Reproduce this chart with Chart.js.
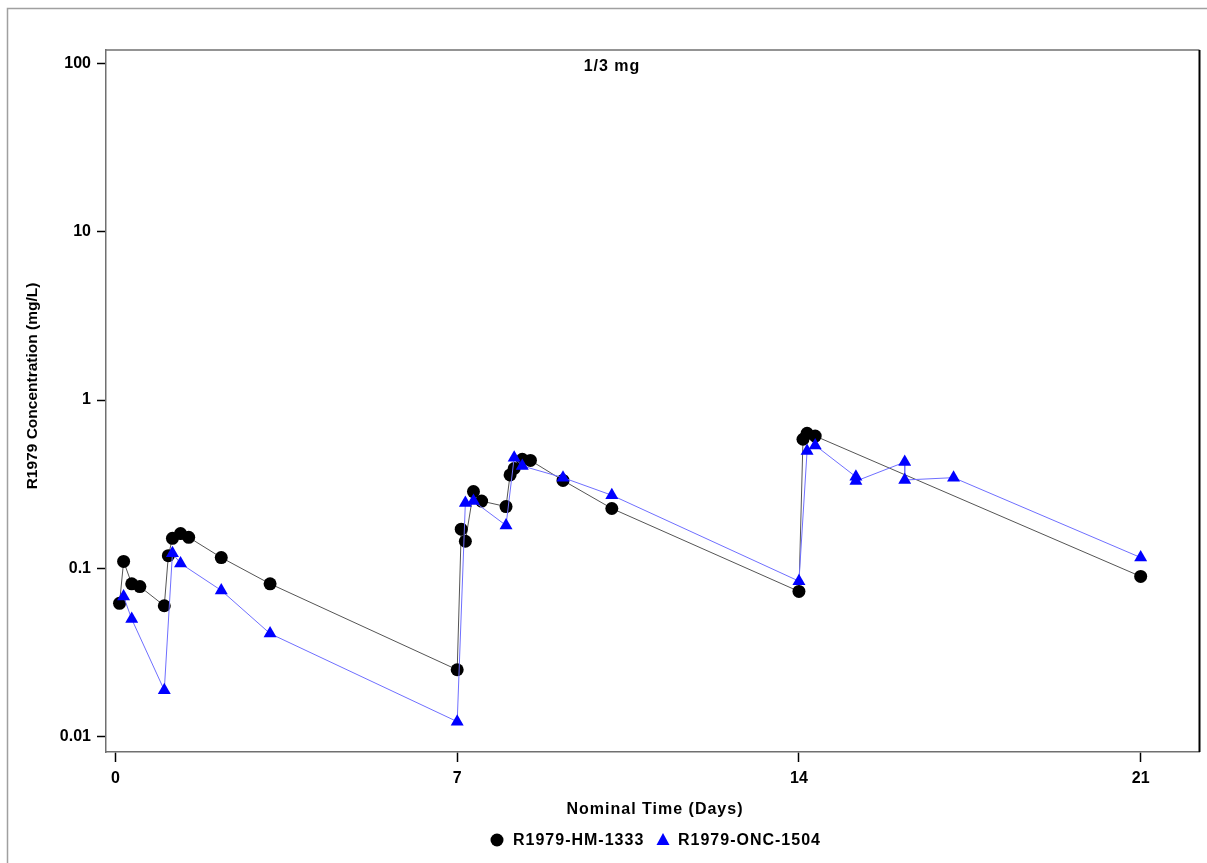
<!DOCTYPE html>
<html>
<head>
<meta charset="utf-8">
<script src="https://cdn.jsdelivr.net/npm/chart.js@4/dist/chart.umd.min.js"></script>
<style>
  body { margin: 0; background: #fff; }
  #wrap { width: 1207px; height: 863px; }
</style>
</head>
<body>
<div id="wrap"><canvas id="myChart" width="1207" height="863"></canvas></div>
<script>
// nominal times in days, concentrations in mg/L
const hmTime = [0.083, 0.167, 0.333, 0.5, 1, 1.083, 1.167, 1.333, 1.5, 2.167, 3.167,
  7, 7.083, 7.167, 7.333, 7.5, 8, 8.083, 8.167, 8.333, 8.5, 9.167, 10.167,
  14, 14.083, 14.167, 14.333, 21];
const hmConc = [0.062, 0.110, 0.081, 0.078, 0.060, 0.119, 0.151, 0.161, 0.153, 0.116, 0.081,
  0.025, 0.171, 0.145, 0.286, 0.251, 0.233, 0.359, 0.392, 0.445, 0.438, 0.333, 0.227,
  0.073, 0.585, 0.634, 0.611, 0.0896];

const oncTime = [0.167, 0.333, 1, 1.167, 1.333, 2.167, 3.167,
  7, 7.167, 7.333, 8, 8.167, 8.333, 9.167, 10.167,
  14, 14.167, 14.333, 15.167, 15.167, 16.167, 16.167, 17.167, 21];
const oncConc = [0.068, 0.050, 0.0189, 0.123, 0.107, 0.074, 0.041,
  0.0123, 0.245, 0.251, 0.180, 0.455, 0.406, 0.346, 0.272,
  0.084, 0.498, 0.538, 0.350, 0.330, 0.428, 0.335, 0.346, 0.116];

const xTicks = [0, 7, 14, 21];
const yTicks = [0.01, 0.1, 1, 10, 100];

const chartTitle = "1/3 mg";
const xTitle = "Nominal Time (Days)";
const yTitle = "R1979 Concentration (mg/L)";
const seriesNames = ["R1979-HM-1333", "R1979-ONC-1504"];

const FAMILY = "'Liberation Sans', Arial, sans-serif";

function toPoints(xs, ys) {
  return xs.map(function (x, i) {
    return { x: x, y: ys[i] };
  });
}

// frame, titles and the legend are drawn by hand
const decorations = {
  id: "decorations",
  beforeDraw(chart) {
    let ctx = chart.ctx;
    ctx.save();
    ctx.fillStyle = "#fff";
    ctx.fillRect(0, 0, chart.width, chart.height);
    ctx.strokeStyle = "#a0a0a0";
    ctx.lineWidth = 1.5;
    ctx.beginPath();
    ctx.moveTo(7.5, chart.height);
    ctx.lineTo(7.5, 8.5);
    ctx.lineTo(chart.width, 8.5);
    ctx.stroke();
    ctx.restore();
  },
  afterDraw(chart) {
    let ctx = chart.ctx;
    let a = chart.chartArea;
    ctx.save();
    ctx.strokeStyle = "#707070";
    ctx.lineWidth = 1.5;
    ctx.beginPath();
    ctx.moveTo(a.left, a.top);
    ctx.lineTo(a.right, a.top);
    ctx.stroke();
    ctx.strokeStyle = "#000";
    ctx.lineWidth = 2;
    ctx.beginPath();
    ctx.moveTo(a.right, a.top);
    ctx.lineTo(a.right, a.bottom);
    ctx.stroke();

    ctx.fillStyle = "#000";
    ctx.font = "bold 16px " + FAMILY;
    ctx.letterSpacing = "1px";
    ctx.textAlign = "center";
    ctx.textBaseline = "middle";
    ctx.fillText(chartTitle, 612, 67);
    ctx.fillText(xTitle, 655, 810);

    ctx.save();
    ctx.letterSpacing = "0px";
    ctx.font = "bold 15.5px " + FAMILY;
    ctx.translate(33, 386);
    ctx.rotate(-Math.PI / 2);
    ctx.fillText(yTitle, 0, 0);
    ctx.restore();

    // legend
    ctx.textAlign = "left";
    ctx.beginPath();
    ctx.arc(497, 840, 6.5, 0, Math.PI * 2);
    ctx.fill();
    ctx.fillText(seriesNames[0], 513, 841);
    ctx.fillStyle = "#0000ff";
    ctx.beginPath();
    ctx.moveTo(663, 833);
    ctx.lineTo(669.5, 845);
    ctx.lineTo(656.5, 845);
    ctx.closePath();
    ctx.fill();
    ctx.fillStyle = "#000";
    ctx.fillText(seriesNames[1], 678, 841);
    ctx.restore();
  },
};

const ctx = document.getElementById("myChart").getContext("2d");
const concChart = new Chart(ctx, {
  type: "line",
  data: {
    datasets: [
      {
        label: seriesNames[0],
        data: toPoints(hmTime, hmConc),
        borderColor: "#555555",
        borderWidth: 1,
        backgroundColor: "#000000",
        pointBackgroundColor: "#000000",
        pointBorderWidth: 0,
        pointStyle: "circle",
        pointRadius: 6.5,
        order: 1,
      },
      {
        label: seriesNames[1],
        data: toPoints(oncTime, oncConc),
        borderColor: "#6f6fff",
        borderWidth: 1,
        backgroundColor: "#0000ff",
        pointBackgroundColor: "#0000ff",
        pointBorderWidth: 0,
        pointStyle: "triangle",
        pointRadius: 7.5,
        order: 0,
      },
    ],
  },
  options: {
    responsive: false,
    animation: false,
    layout: { padding: { left: 0, top: 50, right: 2.5, bottom: 0 } },
    plugins: {
      legend: { display: false },
      tooltip: { enabled: false },
    },
    scales: {
      x: {
        type: "linear",
        min: -0.194,
        max: 22.205,
        afterBuildTicks: function (scale) {
          scale.ticks = xTicks.map(function (v) { return { value: v }; });
        },
        afterFit: function (scale) {
          scale.height = 111;
          scale.paddingLeft = 0;
          scale.paddingRight = 0;
        },
        grid: { drawOnChartArea: false, tickLength: 10, tickColor: "#000", tickWidth: 1.5 },
        border: { color: "#707070", width: 1.5 },
        ticks: {
          color: "#000",
          font: { family: FAMILY, size: 16, weight: "bold" },
          padding: 7,
          maxRotation: 0,
          callback: function (v) { return String(v); },
        },
      },
      y: {
        type: "logarithmic",
        min: 0.00812,
        max: 120,
        afterBuildTicks: function (scale) {
          scale.ticks = yTicks.map(function (v) { return { value: v }; });
        },
        afterFit: function (scale) { scale.width = 106; },
        grid: { drawOnChartArea: false, tickLength: 9, tickColor: "#000", tickWidth: 1.5 },
        border: { color: "#707070", width: 1.5 },
        ticks: {
          color: "#000",
          font: { family: FAMILY, size: 16, weight: "bold" },
          padding: 6,
          callback: function (v) { return String(v); },
        },
      },
    },
  },
  plugins: [decorations],
});
</script>
</body>
</html>
